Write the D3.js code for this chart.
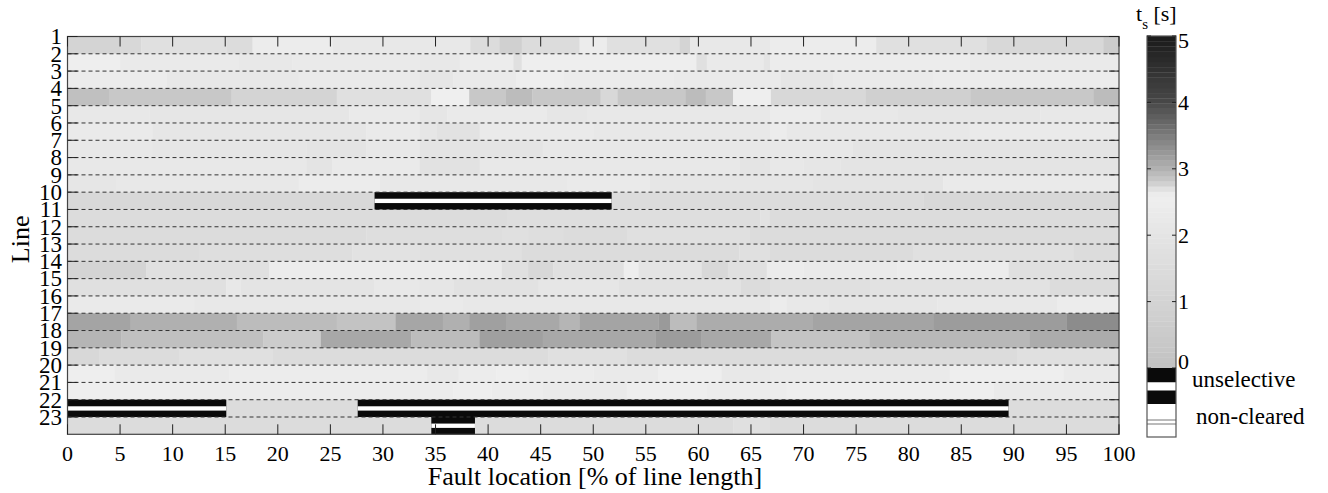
<!DOCTYPE html>
<html>
<head>
<meta charset="utf-8">
<script src="https://cdn.jsdelivr.net/npm/d3@7"></script>
<style>
  body { margin: 0; background: #fff; }
</style>
</head>
<body>
<svg id="chart" width="1328" height="493"></svg>
<script>
// tick labels
var xTicks = [0, 5, 10, 15, 20, 25, 30, 35, 40, 45, 50, 55, 60, 65, 70, 75, 80, 85, 90, 95, 100];
var lineNames = [1, 2, 3, 4, 5, 6, 7, 8, 9, 10, 11, 12, 13, 14, 15, 16, 17, 18, 19, 20, 21, 22, 23];
var cbTicks = [0, 1, 2, 3, 4, 5];

// clearing time t_s [s] per line, as [from %, to %, value]
var line1 = [[0,5,1.04],[5,7,1.27],[7,15.1,1.73],[15.1,17.6,1.5],[17.6,25.2,2.43],[25.2,38.3,2.2],[38.3,41.1,1.5],[41.1,43.2,0.81],[43.2,48.7,1.5],[48.7,51.3,2.43],[51.3,58.2,1.73],[58.2,59.2,1.04],[59.2,66.8,2.2],[66.8,76.9,2.43],[76.9,87.4,1.73],[87.4,98.5,1.27],[98.5,100,0.58]];
var line2 = [[0,5,2.54],[5,16.3,2.31],[16.3,21.4,2.2],[21.4,33.5,2.31],[33.5,37.3,2.2],[37.3,42.4,2.43],[42.4,43.2,1.73],[43.2,59.8,2.54],[59.8,60.8,1.73],[60.8,66.2,2.31],[66.2,66.8,1.97],[66.8,85.8,2.43],[85.8,100,2.31]];
var line3 = [[0,9.4,2.43],[9.4,22,2.2],[22,33.5,2.31],[33.5,36.7,2.08],[36.7,42.7,2.31],[42.7,47.2,2.54],[47.2,57.6,2.43],[57.6,67.8,2.31],[67.8,72.8,2.08],[72.8,82.3,2.31],[82.3,100,2.43]];
var line4 = [[0,4,2.89],[4,15.6,0.35],[15.6,25.6,1.04],[25.6,34.6,1.73],[34.6,38.2,2.6],[38.2,41.7,0.35],[41.7,44.2,2.92],[44.2,50.7,0.35],[50.7,52.3,1.27],[52.3,58.8,0.35],[58.8,60.7,2.92],[60.7,63.3,0.35],[63.3,66.9,2.54],[66.9,75.9,1.27],[75.9,85.9,0.81],[85.9,97.6,0.35],[97.6,100,2.92]];
var line5 = [[0,7.8,2.2],[7.8,26.8,2.08],[26.8,33.5,2.31],[33.5,36.1,2.08],[36.1,45.6,2.31],[45.6,49.4,2.08],[49.4,66.8,2.2],[66.8,71.6,2.43],[71.6,78.9,2.2],[78.9,92.5,2.08],[92.5,100,2.2]];
var line6 = [[0,8.1,2.31],[8.1,28.4,2.08],[28.4,33.5,2.31],[33.5,35.1,2.08],[35.1,39.2,1.85],[39.2,50,2.31],[50,66.8,2.2],[66.8,68.4,2.43],[68.4,85.8,2.2],[85.8,100,2.31]];
var line7 = [[0,8.1,2.2],[8.1,22.7,2.08],[22.7,28.4,1.97],[28.4,33.5,2.2],[33.5,45.2,1.97],[45.2,74.7,2.2],[74.7,100,1.97]];
var line8 = [[0,22.7,2.2],[22.7,25.2,1.97],[25.2,33.5,2.31],[33.5,39.2,1.85],[39.2,63.9,2.2],[63.9,66.8,1.97],[66.8,70,2.2],[70,73.5,2.08],[73.5,100,1.97]];
var line9 = [[0,4.6,2.08],[4.6,22,2.2],[22,29.7,2.43],[29.7,47.5,2.2],[47.5,55.4,2.31],[55.4,70.9,2.08],[70.9,83.3,1.97],[83.3,100,2.31]];
var line10 = [[0,29.2,1.27],[29.2,81.4,1.5],[81.4,100,1.27]];
var line11 = [[0,41.8,1.5],[41.8,65.9,1.62],[65.9,66.8,1.85],[66.8,100,1.5]];
var line12 = [[0,28.4,1.5],[28.4,41.3,1.62],[41.3,43.8,1.73],[43.8,47.2,1.62],[47.2,53.2,1.5],[53.2,64.9,1.73],[64.9,100,1.5]];
var line13 = [[0,12.5,1.5],[12.5,27.1,1.62],[27.1,33.5,1.85],[33.5,43.2,1.73],[43.2,63.9,1.5],[63.9,66.8,1.73],[66.8,80.4,1.5],[80.4,95.7,1.73],[95.7,100,1.5]];
var line14 = [[0,7.5,1.04],[7.5,19.2,1.73],[19.2,38.1,2.43],[38.1,41.3,2.31],[41.3,43.8,1.73],[43.8,46.2,1.27],[46.2,52.9,1.73],[52.9,54.3,2.54],[54.3,60.3,1.97],[60.3,62.8,1.27],[62.8,66.5,1.73],[66.5,70,2.43],[70,78.9,2.31],[78.9,89.5,2.43],[89.5,100,1.73]];
var line15 = [[0,15.1,1.73],[15.1,16.5,2.2],[16.5,29.2,1.97],[29.2,33.5,2.2],[33.5,36.7,2.08],[36.7,44.8,1.85],[44.8,52.4,2.08],[52.4,64,1.85],[64,66.8,1.5],[66.8,76.3,1.73],[76.3,93.4,1.85],[93.4,100,1.5]];
var line16 = [[0,12.1,2.31],[12.1,33.5,2.2],[33.5,37.6,2.31],[37.6,66.8,2.2],[66.8,68.4,2.43],[68.4,72.4,2.2],[72.4,82.7,2.08],[82.7,94.1,2.2],[94.1,100,2.43]];
var line17 = [[0,6,3.13],[6,16.1,3.02],[16.1,25.6,2.92],[25.6,31.2,2.87],[31.2,35.7,3.11],[35.7,38.2,3.02],[38.2,41.7,3.17],[41.7,46.8,3.09],[46.8,48.7,2.98],[48.7,56.2,3.13],[56.2,57.3,3.22],[57.3,59.8,2.92],[59.8,70.9,3.06],[70.9,82.4,3.13],[82.4,95,3.2],[95,100,3.35]];
var line18 = [[0,5.1,2.98],[5.1,18.6,2.89],[18.6,24.1,0.58],[24.1,32.7,3.09],[32.7,39.2,2.92],[39.2,45.2,3.17],[45.2,55.9,3.09],[55.9,60.3,3.2],[60.3,66.9,3.09],[66.9,76.3,0.12],[76.3,91.5,2.95],[91.5,100,3.06]];
var line19 = [[0,3,1.27],[3,10.6,1.5],[10.6,19.5,1.73],[19.5,45.7,1.5],[45.7,53.2,1.73],[53.2,90.3,1.5],[90.3,100,1.73]];
var line20 = [[0,4.5,2.54],[4.5,15.4,2.31],[15.4,34.2,2.43],[34.2,37.2,2.2],[37.2,40.8,2.43],[40.8,43.8,2.54],[43.8,50,2.43],[50,56.2,2.31],[56.2,62.2,2.54],[62.2,66.8,2.2],[66.8,83.9,2.31],[83.9,94.7,2.54],[94.7,100,2.31]];
var line21 = [[0,9.7,2.54],[9.7,36.7,2.43],[36.7,40.3,2.54],[40.3,45.2,2.43],[45.2,53.2,2.31],[53.2,60.8,2.54],[60.8,68.4,2.43],[68.4,88.1,2.54],[88.1,100,2.31]];
var line22 = [[0,100,1.5]];
var line23 = [[0,63.3,1.5],[63.3,66.8,1.73],[66.8,100,1.5]];

var lines = [line1, line2, line3, line4, line5, line6, line7, line8, line9, line10, line11, line12,
             line13, line14, line15, line16, line17, line18, line19, line20, line21, line22, line23];

// unselective tripping: [line, from %, to %]
var unselective = [[10, 29.2, 51.75], [22, 0, 15.1], [22, 27.6, 89.5], [23, 34.6, 38.75]];

// grey colormap of the colorbar
var cmapStops = [0, 2.6, 2.7, 2.8, 3, 3.5, 4, 5];
var cmapGreys = ["#c2c2c2", "#efefef", "#e0e0e0", "#cccccc", "#b2b2b2", "#7c7c7c", "#484848", "#1a1a1a"];

var font = "'Liberation Serif', 'Times New Roman', serif";
var svg = d3.select("#chart").attr("font-family", font);

var x = d3.scaleLinear().domain([0, 100]).range([67.5, 1119]);
var y = d3.scaleBand().domain(lineNames).range([36.5, 434.3]);
var color = d3.scaleLinear().domain(cmapStops).range(cmapGreys).clamp(true);
var yTop = y.range()[0], yBottom = y.range()[1];

// cells
var plot = svg.append("g");
lines.forEach(function (segs, i) {
    var name = lineNames[i];
    plot.selectAll(null)
        .data(segs)
        .enter()
        .append("rect")
        .attr("x", function (d) { return x(d[0]); })
        .attr("width", function (d) { return x(d[1]) - x(d[0]) + 0.3; })
        .attr("y", y(name))
        .attr("height", y.bandwidth() + 0.3)
        .attr("fill", function (d) { return color(d[2]); });
});

// unselective marks: black / white / black
var bw = y.bandwidth();
var uns = plot.selectAll("g.uns")
    .data(unselective)
    .enter()
    .append("g")
    .attr("class", "uns");
uns.append("rect")
    .attr("x", function (d) { return x(d[1]); })
    .attr("width", function (d) { return x(d[2]) - x(d[1]); })
    .attr("y", function (d) { return y(d[0]); })
    .attr("height", bw)
    .attr("fill", "#0a0a0a");
uns.append("rect")
    .attr("x", function (d) { return x(d[1]); })
    .attr("width", function (d) { return x(d[2]) - x(d[1]); })
    .attr("y", function (d) { return y(d[0]) + bw * 0.38; })
    .attr("height", bw * 0.25)
    .attr("fill", "#fff");

// dashed grid at line boundaries
svg.append("g")
    .selectAll("line")
    .data(lineNames.slice(1))
    .enter()
    .append("line")
    .attr("x1", x(0))
    .attr("x2", x(100))
    .attr("y1", function (d) { return y(d); })
    .attr("y2", function (d) { return y(d); })
    .attr("stroke", "#333")
    .attr("stroke-width", 1)
    .attr("stroke-dasharray", "4,3");

// frame
svg.append("rect")
    .attr("x", x(0)).attr("y", yTop)
    .attr("width", x(100) - x(0)).attr("height", yBottom - yTop)
    .attr("fill", "none").attr("stroke", "#444").attr("stroke-width", 1.2);

// ticks inside the frame
var tl = 10;
var ticks = svg.append("g").attr("stroke", "#222").attr("stroke-width", 1);
xTicks.forEach(function (t) {
    ticks.append("line").attr("x1", x(t)).attr("x2", x(t)).attr("y1", yTop).attr("y2", yTop + tl);
    ticks.append("line").attr("x1", x(t)).attr("x2", x(t)).attr("y1", yBottom).attr("y2", yBottom - tl);
});
lineNames.forEach(function (n) {
    ticks.append("line").attr("x1", x(0)).attr("x2", x(0) + tl).attr("y1", y(n)).attr("y2", y(n));
    ticks.append("line").attr("x1", x(100)).attr("x2", x(100) - tl).attr("y1", y(n)).attr("y2", y(n));
});

// tick labels
svg.append("g")
    .selectAll("text")
    .data(xTicks)
    .enter()
    .append("text")
    .attr("x", function (d) { return x(d); })
    .attr("y", 461)
    .attr("text-anchor", "middle")
    .style("font-size", "22px")
    .text(function (d) { return d; });

svg.append("g")
    .selectAll("text")
    .data(lineNames)
    .enter()
    .append("text")
    .attr("x", 62)
    .attr("y", function (d) { return y(d); })
    .attr("dy", "0.34em")
    .attr("text-anchor", "end")
    .style("font-size", "23px")
    .text(function (d) { return d; });

// axis titles
svg.append("text")
    .attr("x", 595)
    .attr("y", 485)
    .attr("text-anchor", "middle")
    .style("font-size", "26px")
    .text("Fault location [% of line length]");

svg.append("text")
    .attr("transform", "translate(29," + ((yTop + yBottom) / 2 + 4) + ")rotate(-90)")
    .attr("text-anchor", "middle")
    .style("font-size", "26px")
    .text("Line");

// colorbar
var cbX = 1147, cbW = 29;
var cbY = d3.scaleLinear().domain([0, 5]).range([368, 36]);
var levels = d3.range(64).map(function (i) { return (i + 0.5) * 5 / 64; });
var cb = svg.append("g");
cb.selectAll("rect.lvl")
    .data(levels)
    .enter()
    .append("rect")
    .attr("class", "lvl")
    .attr("x", cbX)
    .attr("width", cbW)
    .attr("y", function (d) { return cbY(d + 2.5 / 64); })
    .attr("height", cbY(0) - cbY(5 / 64) + 0.3)
    .attr("fill", function (d) { return color(d); });

// unselective and non-cleared keys
cb.append("rect").attr("x", cbX).attr("y", 368).attr("width", cbW).attr("height", 14.5).attr("fill", "#0a0a0a");
cb.append("rect").attr("x", cbX).attr("y", 382.5).attr("width", cbW).attr("height", 8).attr("fill", "#fff");
cb.append("rect").attr("x", cbX).attr("y", 390.5).attr("width", cbW).attr("height", 13.5).attr("fill", "#0a0a0a");
cb.append("rect").attr("x", cbX).attr("y", 404).attr("width", cbW).attr("height", 33).attr("fill", "#fff");
[420, 424].forEach(function (v) {
    cb.append("line").attr("x1", cbX).attr("x2", cbX + cbW).attr("y1", v).attr("y2", v)
        .attr("stroke", "#777").attr("stroke-width", 1);
});
cb.append("rect").attr("x", cbX).attr("y", 36).attr("width", cbW).attr("height", 401)
    .attr("fill", "none").attr("stroke", "#555").attr("stroke-width", 1.2);

cbTicks.forEach(function (t) {
    cb.append("line").attr("x1", cbX).attr("x2", cbX + 4).attr("y1", cbY(t)).attr("y2", cbY(t)).attr("stroke", "#222");
    cb.append("line").attr("x1", cbX + cbW).attr("x2", cbX + cbW - 4).attr("y1", cbY(t)).attr("y2", cbY(t)).attr("stroke", "#222");
});
cb.selectAll("text.cbt")
    .data(cbTicks)
    .enter()
    .append("text")
    .attr("class", "cbt")
    .attr("x", cbX + cbW + 2)
    .attr("y", function (d) { return cbY(d); })
    .attr("dy", function (d) { return d === 5 ? "0.55em" : (d === 0 ? "0.05em" : "0.34em"); })
    .style("font-size", "22px")
    .text(function (d) { return d; });

cb.append("text").attr("x", 1192).attr("y", 387).style("font-size", "23px").text("unselective");
cb.append("text").attr("x", 1196).attr("y", 424).style("font-size", "23px").text("non-cleared");

var title = cb.append("text").attr("x", 1136).attr("y", 21).style("font-size", "22px");
title.append("tspan").text("t");
title.append("tspan").attr("dy", 8).style("font-size", "15px").text("s");
title.append("tspan").attr("dy", -8).text(" [s]");
</script>
</body>
</html>
